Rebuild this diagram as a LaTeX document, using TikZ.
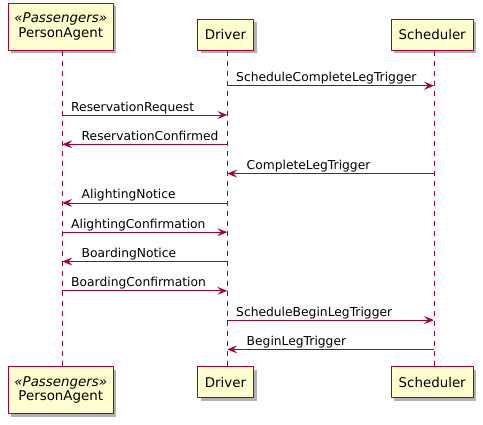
\documentclass[tikz,border=0pt]{standalone}
\usepackage{fontspec}
\newfontfamily\umlfont{DejaVu Sans}
\usetikzlibrary{arrows.meta,shadows}
\definecolor{umlred}{HTML}{A80036}
\definecolor{umlfill}{HTML}{FEFECE}
\newcommand\actorfont{\umlfont\fontsize{13.4}{14.5}\selectfont}
\newcommand\msgfont{\umlfont\fontsize{12.3}{14}\selectfont}
\begin{document}
\begin{tikzpicture}[x=1pt,y=-1pt,line join=round,>={Stealth[length=10pt,width=8pt,inset=4pt]}]
	\tikzset{actor/.style={draw=umlred,fill=umlfill,line width=1pt,inner sep=0pt,align=center,font=\actorfont,
			drop shadow={shadow xshift=3pt,shadow yshift=-3pt,fill=black,opacity=0.3}}}
	\tikzset{life/.style={umlred,line width=0.8pt,dash pattern=on 5pt off 5pt}}
	\tikzset{msg/.style={->,umlred,line width=0.8pt}}
	\tikzset{msglabel/.style={font=\msgfont,text=black,anchor=base west,inner sep=0pt,yshift=4pt}}
	\useasboundingbox (0,0) rectangle (483,424);
	% lifeline positions
	\coordinate (pal) at (62.3,0);
	\coordinate (drl) at (227.3,0);
	\coordinate (scl) at (434,0);
	% participants, top and bottom
	\node[actor,minimum width=105pt,minimum height=47pt] (pa) at (60.8,26.7) {{\itshape «Passengers»}\\PersonAgent};
	\node[actor,minimum width=56pt,minimum height=31pt] (dr) at (225.5,34.5) {Driver};
	\node[actor,minimum width=82pt,minimum height=31pt] (sc) at (432.2,34.5) {Scheduler};
	\node[actor,minimum width=105pt,minimum height=47pt] (pab) at (60.8,390.2) {{\itshape «Passengers»}\\PersonAgent};
	\node[actor,minimum width=56pt,minimum height=31pt] (drb) at (225.5,382.2) {Driver};
	\node[actor,minimum width=82pt,minimum height=31pt] (scb) at (432.2,382.2) {Scheduler};
	\draw[life] (pa.south -| pal) -- (pab.north -| pal);
	\draw[life] (dr.south -| drl) -- (drb.north -| drl);
	\draw[life] (sc.south -| scl) -- (scb.north -| scl);
	% messages
	\draw[msg] (drl |- 0,85.7) -- (scl |- 0,85.7) node[msglabel,pos=0,xshift=8.5pt] {ScheduleCompleteLegTrigger};
	\draw[msg] (pal |- 0,115) -- (drl |- 0,115) node[msglabel,pos=0,xshift=8.5pt] {ReservationRequest};
	\draw[msg] (drl |- 0,144.3) -- (pal |- 0,144.3) node[msglabel,pos=1,xshift=19pt] {ReservationConfirmed};
	\draw[msg] (scl |- 0,173.6) -- (drl |- 0,173.6) node[msglabel,pos=1,xshift=19pt] {CompleteLegTrigger};
	\draw[msg] (drl |- 0,202.9) -- (pal |- 0,202.9) node[msglabel,pos=1,xshift=19pt] {AlightingNotice};
	\draw[msg] (pal |- 0,232.2) -- (drl |- 0,232.2) node[msglabel,pos=0,xshift=8.5pt] {AlightingConfirmation};
	\draw[msg] (drl |- 0,261.5) -- (pal |- 0,261.5) node[msglabel,pos=1,xshift=19pt] {BoardingNotice};
	\draw[msg] (pal |- 0,290.8) -- (drl |- 0,290.8) node[msglabel,pos=0,xshift=8.5pt] {BoardingConfirmation};
	\draw[msg] (drl |- 0,320.1) -- (scl |- 0,320.1) node[msglabel,pos=0,xshift=8.5pt] {ScheduleBeginLegTrigger};
	\draw[msg] (scl |- 0,349.4) -- (drl |- 0,349.4) node[msglabel,pos=1,xshift=19pt] {BeginLegTrigger};
\end{tikzpicture}
\end{document}
